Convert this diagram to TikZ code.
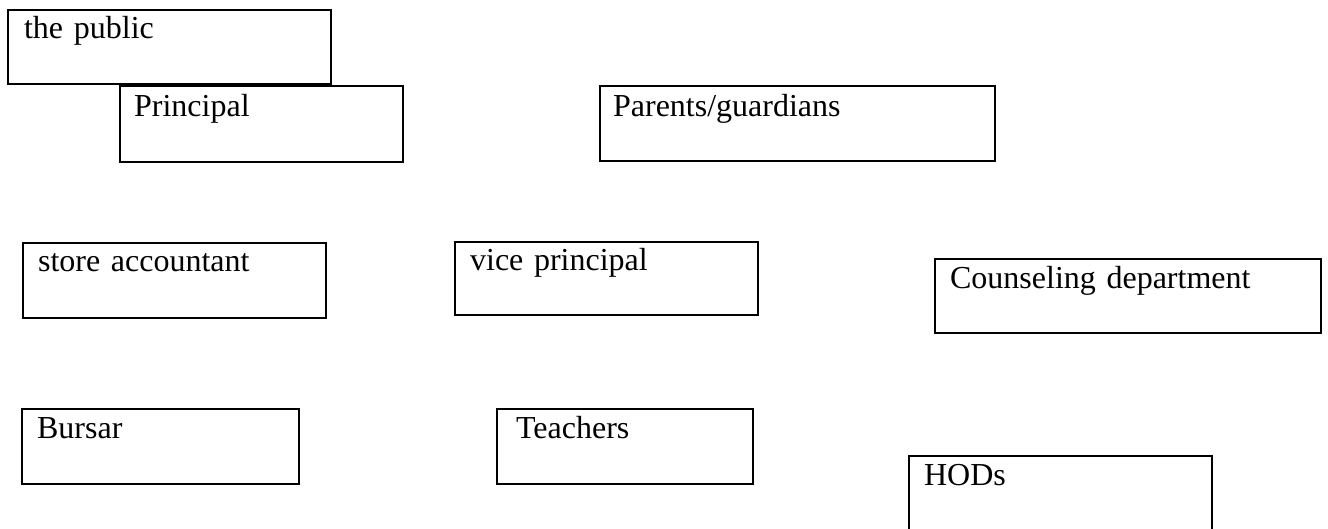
\documentclass[tikz,border=0pt]{standalone}
\usepackage{fontspec}
\setmainfont{Liberation Serif}
\begin{document}
\begin{tikzpicture}[x=1pt,y=-1pt,
  box/.style={draw, line width=2.2pt, anchor=north west, inner ysep=0pt,
    align=left, font=\fontsize{32}{38}\selectfont}]
\clip (0,0) rectangle (1328,529);
\fill[white] (0,0) rectangle (1328,529);
\node[box, inner xsep=16pt, text width=291pt, text height=28pt, text depth=46pt] (pub) at (7,9) {the public};
\node[box, inner xsep=14pt, text width=255pt, text height=30pt, text depth=46pt] (prin) at (119,85) {Principal};
\node[box, inner xsep=13pt, text width=369pt, text height=30pt, text depth=45pt] (par) at (599,85) {Parents/guardians};
\node[box, inner xsep=15pt, text width=273pt, text height=28pt, text depth=47pt] (store) at (22,242) {store accountant};
\node[box, inner xsep=15pt, text width=273pt, text height=28pt, text depth=45pt] (vice) at (454,241) {vice principal};
\node[box, inner xsep=15pt, text width=356pt, text height=29pt, text depth=45pt] (couns) at (934,258) {Counseling department};
\node[box, inner xsep=15pt, text width=247pt, text height=29pt, text depth=46pt] (bursar) at (21,408) {Bursar};
\node[box, inner xsep=19pt, text width=218pt, text height=29pt, text depth=46pt] (teach) at (496,408) {Teachers};
\node[box, inner xsep=15pt, text width=273pt, text height=29pt, text depth=61pt] (hods) at (908,455) {HODs};
\end{tikzpicture}
\end{document}
